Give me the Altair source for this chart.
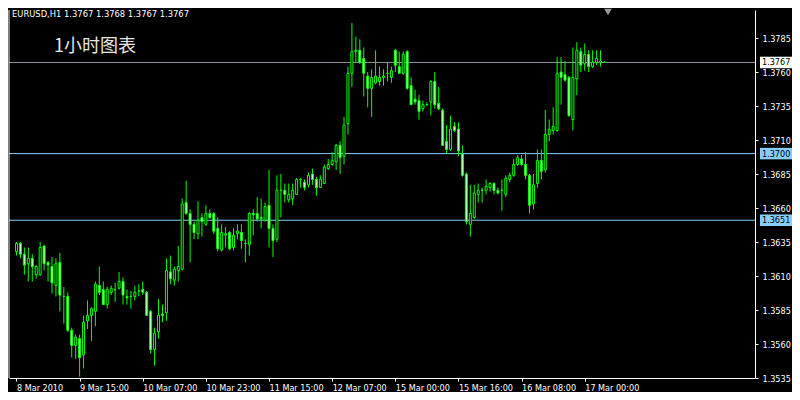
import json
import altair as alt
import pandas as pd

# ---------------- data (EURUSD H1) ----------------
opens = [1.3628, 1.3634, 1.3626, 1.3619, 1.3623, 1.3611, 1.3611, 1.3632, 1.3620, 1.3617,
         1.3603, 1.3620, 1.3595, 1.3595, 1.3570, 1.3559, 1.3564, 1.3552, 1.3577, 1.3581,
         1.3584, 1.3603, 1.3600, 1.3589, 1.3598, 1.3600, 1.3601, 1.3606, 1.3595, 1.3595,
         1.3595, 1.3599, 1.3600, 1.3598, 1.3584, 1.3556, 1.3569, 1.3582, 1.3583, 1.3613,
         1.3607, 1.3614, 1.3615, 1.3664, 1.3656, 1.3648, 1.3641, 1.3653, 1.3648, 1.3656,
         1.3656, 1.3645, 1.3629, 1.3640, 1.3642, 1.3631, 1.3641, 1.3642, 1.3634, 1.3633,
         1.3656, 1.3656, 1.3653, 1.3651, 1.3662, 1.3645, 1.3637, 1.3673, 1.3673, 1.3666,
         1.3667, 1.3670, 1.3681, 1.3679, 1.3677, 1.3685, 1.3681, 1.3675, 1.3678, 1.3689,
         1.3692, 1.3694, 1.3706, 1.3698, 1.3722, 1.3759, 1.3775, 1.3776, 1.3770, 1.3757,
         1.3748, 1.3752, 1.3753, 1.3756, 1.3759, 1.3756, 1.3776, 1.3764, 1.3759, 1.3775,
         1.3750, 1.3740, 1.3739, 1.3733, 1.3736, 1.3738, 1.3753, 1.3737, 1.3732, 1.3709,
         1.3703, 1.3720, 1.3718, 1.3700, 1.3685, 1.3648, 1.3653, 1.3670, 1.3673, 1.3673,
         1.3675, 1.3678, 1.3673, 1.3673, 1.3670, 1.3681, 1.3684, 1.3692, 1.3696, 1.3692,
         1.3684, 1.3663, 1.3678, 1.3695, 1.3688, 1.3714, 1.3717, 1.3717, 1.3760, 1.3758,
         1.3756, 1.3725, 1.3755, 1.3775, 1.3766, 1.3773, 1.3764, 1.3767, 1.3767, 1.3767]
highs = [1.3635, 1.3635, 1.3631, 1.3631, 1.3626, 1.3618, 1.3635, 1.3633, 1.3621, 1.3624,
         1.3623, 1.3627, 1.3602, 1.3598, 1.3572, 1.3567, 1.3567, 1.3581, 1.3592, 1.3587,
         1.3606, 1.3617, 1.3606, 1.3602, 1.3603, 1.3605, 1.3613, 1.3609, 1.3600, 1.3599,
         1.3603, 1.3604, 1.3606, 1.3599, 1.3585, 1.3572, 1.3593, 1.3589, 1.3623, 1.3625,
         1.3617, 1.3632, 1.3667, 1.3680, 1.3659, 1.3650, 1.3665, 1.3656, 1.3662, 1.3659,
         1.3657, 1.3653, 1.3648, 1.3646, 1.3643, 1.3645, 1.3648, 1.3648, 1.3637, 1.3657,
         1.3659, 1.3668, 1.3667, 1.3664, 1.3688, 1.3648, 1.3684, 1.3685, 1.3678, 1.3678,
         1.3678, 1.3682, 1.3682, 1.3681, 1.3686, 1.3689, 1.3683, 1.3684, 1.3692, 1.3696,
         1.3701, 1.3707, 1.3709, 1.3727, 1.3764, 1.3796, 1.3786, 1.3784, 1.3778, 1.3760,
         1.3762, 1.3776, 1.3764, 1.3762, 1.3767, 1.3764, 1.3777, 1.3775, 1.3775, 1.3776,
         1.3756, 1.3747, 1.3743, 1.3739, 1.3738, 1.3754, 1.3760, 1.3749, 1.3733, 1.3721,
         1.3728, 1.3723, 1.3723, 1.3706, 1.3686, 1.3677, 1.3677, 1.3678, 1.3675, 1.3681,
         1.3679, 1.3679, 1.3675, 1.3681, 1.3684, 1.3686, 1.3696, 1.3699, 1.3699, 1.3701,
         1.3685, 1.3685, 1.3703, 1.3703, 1.3732, 1.3725, 1.3734, 1.3771, 1.3771, 1.3768,
         1.3757, 1.3778, 1.3782, 1.3778, 1.3781, 1.3776, 1.3776, 1.3776, 1.3776, 1.3768]
lows = [1.3625, 1.3623, 1.3611, 1.3606, 1.3606, 1.3608, 1.3610, 1.3614, 1.3606, 1.3597,
        1.3595, 1.3584, 1.3575, 1.3569, 1.3550, 1.3549, 1.3536, 1.3542, 1.3571, 1.3562,
        1.3573, 1.3596, 1.3589, 1.3586, 1.3596, 1.3591, 1.3600, 1.3589, 1.3589, 1.3586,
        1.3592, 1.3595, 1.3596, 1.3581, 1.3553, 1.3544, 1.3564, 1.3576, 1.3577, 1.3604,
        1.3603, 1.3606, 1.3614, 1.3655, 1.3620, 1.3637, 1.3637, 1.3639, 1.3647, 1.3652,
        1.3641, 1.3628, 1.3628, 1.3631, 1.3629, 1.3629, 1.3637, 1.3630, 1.3620, 1.3625,
        1.3640, 1.3650, 1.3645, 1.3650, 1.3631, 1.3624, 1.3635, 1.3653, 1.3664, 1.3664,
        1.3662, 1.3670, 1.3675, 1.3673, 1.3675, 1.3677, 1.3669, 1.3675, 1.3678, 1.3688,
        1.3691, 1.3688, 1.3685, 1.3692, 1.3714, 1.3749, 1.3767, 1.3766, 1.3742, 1.3734,
        1.3727, 1.3751, 1.3750, 1.3750, 1.3753, 1.3752, 1.3760, 1.3759, 1.3758, 1.3747,
        1.3736, 1.3736, 1.3725, 1.3731, 1.3735, 1.3728, 1.3733, 1.3732, 1.3706, 1.3700,
        1.3702, 1.3716, 1.3698, 1.3683, 1.3648, 1.3639, 1.3652, 1.3664, 1.3664, 1.3670,
        1.3672, 1.3670, 1.3670, 1.3658, 1.3668, 1.3679, 1.3683, 1.3691, 1.3691, 1.3681,
        1.3656, 1.3659, 1.3675, 1.3681, 1.3686, 1.3709, 1.3714, 1.3716, 1.3736, 1.3753,
        1.3727, 1.3717, 1.3743, 1.3760, 1.3761, 1.3760, 1.3763, 1.3765, 1.3764, 1.3767]
closes = [1.3634, 1.3626, 1.3618, 1.3623, 1.3617, 1.3617, 1.3631, 1.3619, 1.3618, 1.3605,
          1.3619, 1.3596, 1.3595, 1.3570, 1.3559, 1.3565, 1.3550, 1.3576, 1.3581, 1.3586,
          1.3604, 1.3598, 1.3589, 1.3600, 1.3601, 1.3600, 1.3606, 1.3596, 1.3594, 1.3595,
          1.3598, 1.3599, 1.3598, 1.3581, 1.3556, 1.3568, 1.3581, 1.3581, 1.3614, 1.3608,
          1.3615, 1.3617, 1.3663, 1.3656, 1.3648, 1.3642, 1.3651, 1.3650, 1.3656, 1.3653,
          1.3643, 1.3630, 1.3642, 1.3641, 1.3630, 1.3640, 1.3643, 1.3636, 1.3634, 1.3656,
          1.3655, 1.3652, 1.3652, 1.3661, 1.3645, 1.3636, 1.3673, 1.3673, 1.3670, 1.3670,
          1.3673, 1.3681, 1.3681, 1.3675, 1.3684, 1.3681, 1.3675, 1.3681, 1.3690, 1.3692,
          1.3695, 1.3706, 1.3697, 1.3721, 1.3759, 1.3775, 1.3776, 1.3767, 1.3759, 1.3748,
          1.3756, 1.3757, 1.3756, 1.3757, 1.3759, 1.3761, 1.3765, 1.3759, 1.3773, 1.3748,
          1.3736, 1.3738, 1.3731, 1.3736, 1.3736, 1.3753, 1.3736, 1.3733, 1.3706, 1.3703,
          1.3718, 1.3717, 1.3702, 1.3684, 1.3650, 1.3656, 1.3671, 1.3673, 1.3673, 1.3676,
          1.3678, 1.3673, 1.3671, 1.3673, 1.3682, 1.3684, 1.3692, 1.3697, 1.3692, 1.3684,
          1.3662, 1.3677, 1.3695, 1.3687, 1.3714, 1.3718, 1.3720, 1.3759, 1.3756, 1.3754,
          1.3728, 1.3756, 1.3776, 1.3765, 1.3773, 1.3764, 1.3767, 1.3770, 1.3768, 1.3767]

tick_bars = [0, 16, 32, 48, 64, 80, 96, 112, 128, 144]
tick_labels = ["8 Mar 2010", "9 Mar 15:00", "10 Mar 07:00", "10 Mar 23:00", "11 Mar 15:00",
               "12 Mar 07:00", "15 Mar 00:00", "15 Mar 16:00", "16 Mar 08:00", "17 Mar 00:00"]
price_ticks = [1.3535, 1.3560, 1.3585, 1.3610, 1.3635, 1.3660, 1.3685, 1.3710,
               1.3735, 1.3760, 1.3785]
level_prices = [1.3767, 1.3700, 1.3651]
level_line_colors = ["#8a96a6", "#87cefa", "#87cefa"]
level_box_colors = ["#ffffff", "#87cefa", "#87cefa"]
header_text = "EURUSD,H1  1.3767 1.3768 1.3767 1.3767"
caption_text = "1小时图表"

# ---------------- layout ----------------
W, H = 746, 368
GREEN = "#00ff00"
WHITE = "#ffffff"
FONT = "DejaVu Sans Condensed, DejaVu Sans, Liberation Sans"

df = pd.DataFrame({"i": list(range(len(opens))), "o": opens, "h": highs,
                   "l": lows, "c": closes})
levels = pd.DataFrame({"price": level_prices, "line": level_line_colors,
                       "box": level_box_colors})

xscale = alt.Scale(domain=[-0.625, -0.625 + W / 4], nice=False, zero=False)
yscale = alt.Scale(domain=[1.3535, 1.3535 + H / 13600], nice=False, zero=False)

xaxis = alt.Axis(values=tick_bars,
                 labelExpr=json.dumps(tick_labels) + "[round(datum.value / 16)]",
                 title=None, grid=False, tickSize=3, tickColor=WHITE,
                 domainColor=WHITE, labelColor=WHITE, labelFont=FONT,
                 labelFontSize=9, labelAlign="left", labelBaseline="top",
                 labelPadding=2, labelOverlap=False, labelFlush=False)
yaxis = alt.Axis(orient="right", values=price_ticks, format=".4f", title=None,
                 grid=False, tickSize=3, tickColor=WHITE, domainColor=WHITE,
                 labelColor=WHITE, labelFont=FONT, labelFontSize=9,
                 labelPadding=4, labelOverlap=False, labelFlush=False)

X = alt.X("i:Q", scale=xscale, axis=xaxis)

level_lines = alt.Chart(levels).mark_rule(strokeWidth=1).encode(
    y=alt.Y("price:Q", scale=yscale, axis=yaxis),
    color=alt.Color("line:N", scale=None),
)

wicks = alt.Chart(df).mark_rule(color=GREEN, strokeWidth=1).encode(
    x=X,
    y=alt.Y("l:Q", scale=yscale, axis=yaxis),
    y2="h:Q",
)

bodies = alt.Chart(df).mark_bar(width=2, stroke=GREEN, strokeWidth=1).encode(
    x=X,
    y=alt.Y("o:Q", scale=yscale, axis=yaxis),
    y2="c:Q",
    fill=alt.condition("datum.c > datum.o", alt.value("#000000"), alt.value("#c8ffc8")),
)

box_path = "M-1,-0.36L1,-0.36L1,0.36L-1,0.36Z"
level_boxes = alt.Chart(levels).mark_point(
    shape=box_path, filled=True, size=32 * 32, opacity=1, strokeWidth=0
).encode(
    x=alt.value(W + 21),
    y=alt.Y("price:Q", scale=yscale, axis=yaxis),
    fill=alt.Color("box:N", scale=None),
)
level_text = alt.Chart(levels).mark_text(
    align="left", baseline="middle", font=FONT, fontSize=9, color="#000000"
).encode(
    x=alt.value(W + 7),
    y=alt.Y("price:Q", scale=yscale, axis=yaxis),
    text=alt.Text("price:Q", format=".4f"),
)

frame_left = alt.Chart(pd.DataFrame({"k": [0]})).mark_rule(color=WHITE).encode(
    x=alt.value(0), y=alt.value(0), y2=alt.value(H)
)

header = alt.Chart(pd.DataFrame({"t": [header_text]})).mark_text(
    align="left", baseline="middle", font=FONT, fontSize=9.3, color=WHITE
).encode(x=alt.value(3), y=alt.value(4), text="t:N")

caption = alt.Chart(pd.DataFrame({"t": [caption_text]})).mark_text(
    align="left", baseline="middle", font="Noto Sans CJK SC", fontSize=18,
    color="#e6e6e6"
).encode(x=alt.value(45), y=alt.value(37), text="t:N")

shift_marker = alt.Chart(pd.DataFrame({"k": [0]})).mark_point(
    shape="triangle-down", filled=True, color="#9a9a9a", size=60, opacity=1
).encode(x=alt.value(599), y=alt.value(2))

chart = alt.layer(
    level_lines, wicks, bodies, level_boxes, level_text, frame_left,
    header, caption, shift_marker
).properties(
    width=W, height=H, padding=0, background="#000000"
).configure_view(stroke=None)

chart.save("out.html", embed_options={"renderer": "svg", "actions": False})
